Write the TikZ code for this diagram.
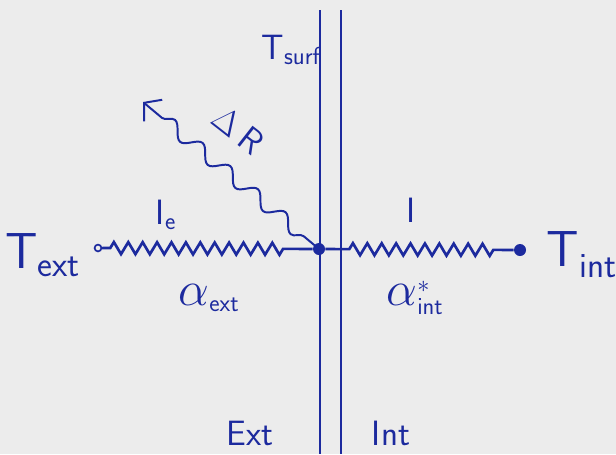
\documentclass[tikz,border=0pt]{standalone}
\usepackage{graphicx}
\usetikzlibrary{arrows.meta,decorations.pathmorphing,positioning}
\definecolor{ink}{HTML}{1c2a9e}
\definecolor{paper}{HTML}{ececec}
\newcommand{\bigfont}{\sffamily\fontsize{36}{38}\selectfont}
\newcommand{\midfont}{\sffamily\fontsize{25}{27}\selectfont}
\newcommand{\bigalpha}{\scalebox{1.4}{$\alpha$}}

\begin{document}
\begin{tikzpicture}[x=0.025cm, y=-0.025cm,
    every node/.style={text=ink, inner sep=0pt},
    wall/.style={draw=ink, line width=2pt},
    dot/.style={circle, fill=ink, minimum size=0.3cm},
    opendot/.style={circle, draw=ink, line width=1.2pt, minimum size=0.17cm},
    wire/.style={draw=ink, line width=1.9pt, decorate,
      decoration={zigzag, segment length=0.36cm, amplitude=0.15cm}},
    ray/.style={draw=ink, line width=1.4pt, -{Straight Barb[length=3mm, width=7mm, line width=1.4pt]},
      decorate, decoration={snake, segment length=0.9cm, amplitude=0.17cm, pre length=0.5cm, post length=3mm}},
    biglabel/.style={font=\bigfont},
    midlabel/.style={font=\midfont}]
% paper
\fill[paper] (0,0) rectangle (616,454);
\useasboundingbox (0,0) rectangle (616,454);
% the two faces of the wall
\coordinate (wall left top) at (320,10);
\coordinate (wall left bot) at (320,454);
\coordinate (wall right top) at (341,10);
\coordinate (wall right bot) at (341,454);
\draw[wall] (wall left top) -- (wall left bot);
\draw[wall] (wall right top) -- (wall right bot);
% nodes of the network
\node[opendot] (ext) at (98,248) {};
\node[dot] (surf) at (319,249) {};
\node[dot] (int) at (520,250) {};
\coordinate (ray end) at (143,102);
% resistances
\draw[wire, decoration={pre length=0.2cm, post length=0.7cm}] (ext) -- (surf);
\draw[wire, decoration={pre length=0.6cm, post length=0.5cm}] (surf) -- (int);
% radiative loss
\draw[ray] (surf.center) -- (ray end);
% labels
\node[biglabel] (Text) at (43,255) {T\textsubscript{ext}};
\node[biglabel] (Tint) at (582,255) {T\textsubscript{int}};
\node[midlabel] (Ie) at (166,215) {I\textsubscript{e}};
\node[midlabel] (I) at (411,210) {I};
\node[midlabel] (aext) at (209,298) {\bigalpha\textsubscript{ext}};
\node[midlabel] (aint) at (415,298) {\bigalpha$^{*}_{\mathsf{int}}$};
\node[midlabel] (Tsurf) at (291,50) {T\textsubscript{surf}};
\node[midlabel, rotate=-38] (dR) at (238,130) {$\Delta$\,R};
\node[midlabel] (Ext) at (250,433) {Ext};
\node[midlabel] (Int) at (391,433) {Int};
\end{tikzpicture}
\end{document}
